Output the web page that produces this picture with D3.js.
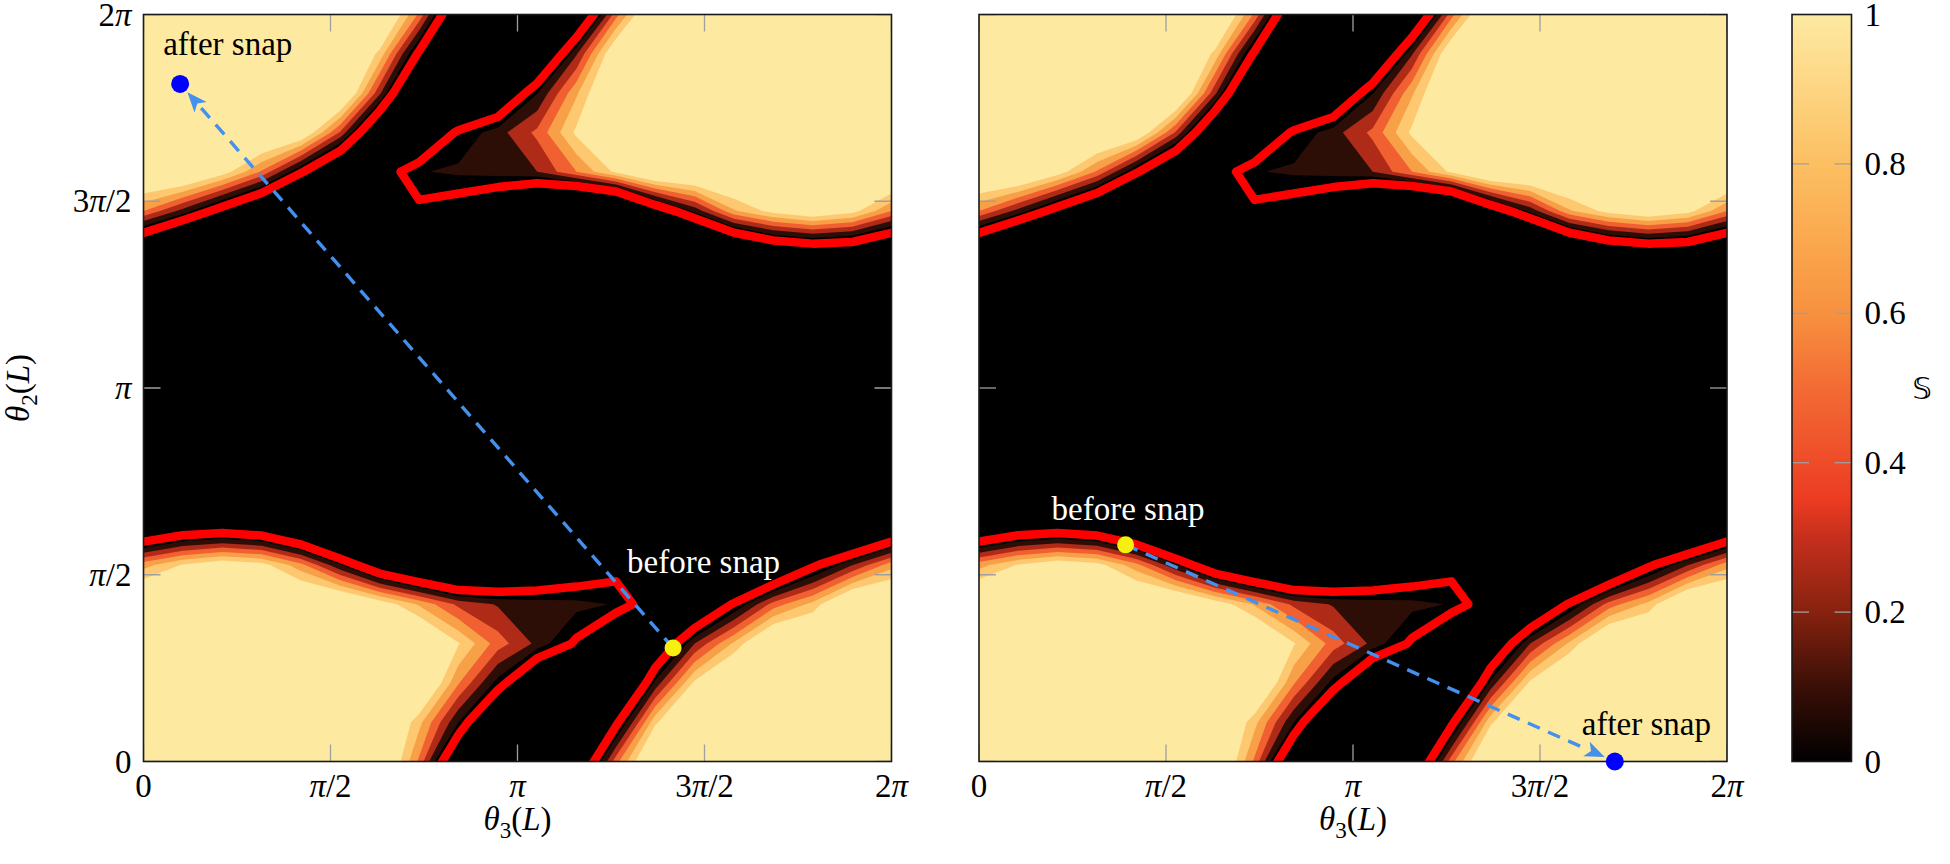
<!DOCTYPE html>
<html>
<head>
<meta charset="utf-8">
<script src="https://cdn.jsdelivr.net/npm/d3@7"></script>
<style>
  body { margin: 0; background: #fff; }
  text { font-family: "Liberation Serif", "Times New Roman", serif; }
</style>
</head>
<body>
<script>
// S sampled on a 20 x 20 grid, theta3 = 0..2pi along a row, theta2 = 0..2pi across rows.
// Rows are written from theta2 = 2pi (top of the plot) down to theta2 = 0 (bottom).
// Values outside [0, 1] are just clipped by the colour scale.
var sRows = [
  [1.5,1.5,1.5,1.5,1.5,1.5,1.5,0.56,-0.85,-1.8,-1.8,-0.89,0.52,1.5,1.5,1.5,1.5,1.5,1.5,1.5],
  [1.5,1.5,1.5,1.5,1.5,1.5,0.94,-0.33,-1.8,-1.8,-1.05,0.18,1.3,1.5,1.5,1.5,1.5,1.5,1.5,1.5],
  [1.5,1.5,1.5,1.5,1.5,1.5,0.24,-1.24,-1.8,-0.87,-0.01,0.77,1.5,1.5,1.5,1.5,1.5,1.5,1.5,1.5],
  [1.5,1.5,1.5,1.5,1.3,0.37,-0.9,-1.05,-0.18,0.12,0.45,1.05,1.5,1.5,1.5,1.5,1.5,1.5,1.5,1.5],
  [1.5,1.5,1.13,0.57,-0.22,-1.0,-0.55,-0.02,0.05,0.1,0.2,0.6,1.05,1.5,1.5,1.5,1.5,1.5,1.5,1.5],
  [0.6,0.12,-0.44,-0.98,-1.8,-1.8,-1.8,-0.37,-0.53,-0.85,-1.42,-1.8,-1.59,-0.6,0.06,0.77,1.09,1.27,1.09,0.6],
  [-0.97,-1.56,-1.8,-1.8,-1.8,-1.8,-1.8,-1.8,-1.8,-1.8,-1.8,-1.8,-1.8,-1.8,-1.72,-1.12,-0.73,-0.59,-0.64,-0.97],
  [-1.8,-1.8,-1.8,-1.8,-1.8,-1.8,-1.8,-1.8,-1.8,-1.8,-1.8,-1.8,-1.8,-1.8,-1.8,-1.8,-1.8,-1.8,-1.8,-1.8],
  [-1.8,-1.8,-1.8,-1.8,-1.8,-1.8,-1.8,-1.8,-1.8,-1.8,-1.8,-1.8,-1.8,-1.8,-1.8,-1.8,-1.8,-1.8,-1.8,-1.8],
  [-1.8,-1.8,-1.8,-1.8,-1.8,-1.8,-1.8,-1.8,-1.8,-1.8,-1.8,-1.8,-1.8,-1.8,-1.8,-1.8,-1.8,-1.8,-1.8,-1.8],
  [-1.8,-1.8,-1.8,-1.8,-1.8,-1.8,-1.8,-1.8,-1.8,-1.8,-1.8,-1.8,-1.8,-1.8,-1.8,-1.8,-1.8,-1.8,-1.8,-1.8],
  [-1.8,-1.8,-1.8,-1.8,-1.8,-1.8,-1.8,-1.8,-1.8,-1.8,-1.8,-1.8,-1.8,-1.8,-1.8,-1.8,-1.8,-1.8,-1.8,-1.8],
  [-1.8,-1.8,-1.8,-1.8,-1.8,-1.8,-1.8,-1.8,-1.8,-1.8,-1.8,-1.8,-1.8,-1.8,-1.8,-1.8,-1.8,-1.8,-1.8,-1.8],
  [-0.95,-0.69,-0.61,-0.73,-1.14,-1.8,-1.8,-1.8,-1.8,-1.8,-1.8,-1.8,-1.8,-1.8,-1.8,-1.8,-1.8,-1.8,-1.49,-0.95],
  [0.72,1.02,1.2,1.09,0.67,0.02,-0.68,-1.08,-1.37,-1.25,-1.0,-0.7,-0.45,-1.5,-1.8,-1.8,-1.03,-0.35,0.19,0.72],
  [1.5,1.5,1.5,1.5,1.5,1.5,1.18,0.77,0.35,0.18,0.12,0.08,-0.02,-0.6,-0.99,-0.22,0.49,0.87,1.5,1.5],
  [1.5,1.5,1.5,1.5,1.5,1.5,1.5,1.5,1.02,0.5,0.15,-0.33,-1.16,-0.8,0.2,0.84,1.5,1.5,1.5,1.5],
  [1.5,1.5,1.5,1.5,1.5,1.5,1.5,1.5,0.62,-0.08,-0.98,-1.8,-1.35,0.06,1.05,1.5,1.5,1.5,1.5,1.5],
  [1.5,1.5,1.5,1.5,1.5,1.5,1.5,0.87,0.0,-1.14,-1.8,-1.8,-0.36,0.96,1.5,1.5,1.5,1.5,1.5,1.5],
  [1.5,1.5,1.5,1.5,1.5,1.5,1.5,0.56,-0.85,-1.8,-1.8,-0.89,0.52,1.5,1.5,1.5,1.5,1.5,1.5,1.5]
];

// filled contour levels and their colours
var levels = [0, 0.2, 0.4, 0.6, 0.8, 1.0];
var bandColors = ["#2d0e07", "#b02a18", "#f06030", "#f8a048", "#fdc870", "#fde9a0"];
var redLevel = -0.27;

// colorbar
var cbStops = [0, 0.1, 0.2, 0.3, 0.35, 0.4, 0.5, 0.6, 0.7, 0.8, 0.9, 1.0];
var cbColors = ["#000000", "#3a0f07", "#86220f", "#c52f1c", "#ec3b22", "#ee4c29",
                "#f36b34", "#f7913f", "#fba94f", "#fcbf62", "#fdd582", "#fdeaa2"];
var cbTicks = [0, 0.2, 0.4, 0.6, 0.8, 1];

// axis ticks (in units of pi)
var tickPi = [0, 0.5, 1, 1.5, 2];
var tickLabels = ["0", "π/2", "π", "3π/2", "2π"];

// snap points, [theta3, theta2] in units of pi: left panel, right panel
var snapBefore = [[1.416, 0.304], [0.392, 0.58]];
var snapAfter = [[0.098, 1.814], [1.70, 0.0]];

var W = 1950, H = 864;
var svg = d3.select("body").append("svg").attr("width", W).attr("height", H);
var PI = Math.PI;

var plotTop = 14.5, pw = 748, ph = 747;
var fs = 33;

// ---- contours from the grid (wrapped one point each side, the data is periodic)
var n = sRows.length;
var S = sRows.slice().reverse();          // S[j][i], j = 0 at theta2 = 0
var period = n - 1;
var wrap = function (k) { return ((k - 1) % period + period) % period; };
var P = n + 2;
var grid = [];
for (var gj = 0; gj < P; gj++) {
  for (var gi = 0; gi < P; gi++) grid.push(S[wrap(gj)][wrap(gi)]);
}
var h = 2 * PI / period;
var bands = d3.contours().size([P, P]).thresholds(levels)(grid);
var redLine = d3.contours().size([P, P]).thresholds([redLevel])(grid);

var defs = svg.append("defs");

var panels = [
  { x0: 143.5, k: 0, yLabels: true,
    beforeText: [-46, -75], afterText: [-17, -29] },
  { x0: 979, k: 1, yLabels: false,
    beforeText: [-74, -25], afterText: [-33, -27] }
];

function mathLabel(sel, str) {
  str.split(/(π)/).forEach(function (part) {
    if (!part) return;
    sel.append("tspan")
      .attr("font-style", part === "π" ? "italic" : null)
      .text(part);
  });
}

function thetaLabel(sel, sub) {
  sel.append("tspan").attr("font-style", "italic").text("θ");
  sel.append("tspan").attr("font-size", fs * 0.7).attr("dy", 8).text(sub);
  sel.append("tspan").attr("dy", -8).text("(");
  sel.append("tspan").attr("font-style", "italic").text("L");
  sel.append("tspan").text(")");
}

panels.forEach(function (p) {
  var x = d3.scaleLinear().domain([0, 2 * PI]).range([p.x0, p.x0 + pw]);
  var y = d3.scaleLinear().domain([0, 2 * PI]).range([plotTop + ph, plotTop]);

  var proj = d3.geoTransform({
    point: function (cx, cy) {
      this.stream.point(x((cx - 1.5) * h), y((cy - 1.5) * h));
    }
  });
  var path = d3.geoPath(proj);

  var clipId = "clip" + p.k;
  defs.append("clipPath").attr("id", clipId)
    .append("rect")
    .attr("x", p.x0).attr("y", plotTop).attr("width", pw).attr("height", ph);

  var g = svg.append("g").attr("clip-path", "url(#" + clipId + ")");
  g.append("rect")
    .attr("x", p.x0).attr("y", plotTop).attr("width", pw).attr("height", ph)
    .attr("fill", "#000");

  g.selectAll("path.band")
    .data(bands)
    .enter().append("path")
    .attr("class", "band")
    .attr("d", path)
    .attr("fill", function (d, i) { return bandColors[i]; });

  g.selectAll("path.red")
    .data(redLine)
    .enter().append("path")
    .attr("class", "red")
    .attr("d", path)
    .attr("fill", "none")
    .attr("stroke", "#ff0000")
    .attr("stroke-width", 8.5)
    .attr("stroke-linejoin", "round");

  // ticks inside the frame, on all four sides
  var tl = 17;
  tickPi.forEach(function (t) {
    var tx = x(t * PI), ty = y(t * PI);
    g.append("line").attr("x1", tx).attr("x2", tx).attr("y1", plotTop + ph).attr("y2", plotTop + ph - tl);
    g.append("line").attr("x1", tx).attr("x2", tx).attr("y1", plotTop).attr("y2", plotTop + tl);
    g.append("line").attr("y1", ty).attr("y2", ty).attr("x1", p.x0).attr("x2", p.x0 + tl);
    g.append("line").attr("y1", ty).attr("y2", ty).attr("x1", p.x0 + pw).attr("x2", p.x0 + pw - tl);
  });
  g.selectAll("line").attr("stroke", "#a0a0a0").attr("stroke-width", 1.3);

  svg.append("rect")
    .attr("x", p.x0).attr("y", plotTop).attr("width", pw).attr("height", ph)
    .attr("fill", "none").attr("stroke", "#1a1a1a").attr("stroke-width", 1.6);

  // tick labels
  tickPi.forEach(function (t, i) {
    var lab = svg.append("text")
      .attr("x", x(t * PI)).attr("y", plotTop + ph + 35)
      .attr("text-anchor", "middle").attr("font-size", fs);
    mathLabel(lab, tickLabels[i]);
    if (p.yLabels) {
      var ylab = svg.append("text")
        .attr("x", p.x0 - 12).attr("y", y(t * PI) + 11)
        .attr("text-anchor", "end").attr("font-size", fs);
      mathLabel(ylab, tickLabels[i]);
    }
  });

  var xl = svg.append("text")
    .attr("x", p.x0 + pw / 2).attr("y", 830)
    .attr("text-anchor", "middle").attr("font-size", fs);
  thetaLabel(xl, "3");

  if (p.yLabels) {
    var yl = svg.append("text")
      .attr("transform", "translate(29," + (plotTop + ph / 2) + ") rotate(-90)")
      .attr("text-anchor", "middle").attr("font-size", fs);
    thetaLabel(yl, "2");
  }

  // snap arrow
  var b = snapBefore[p.k], a = snapAfter[p.k];
  var bx = x(b[0] * PI), by = y(b[1] * PI);
  var ax = x(a[0] * PI), ay = y(a[1] * PI);
  var dx = ax - bx, dy = ay - by, len = Math.sqrt(dx * dx + dy * dy);
  var ux = dx / len, uy = dy / len;
  var tipX = ax - ux * 11, tipY = ay - uy * 11;
  var headL = 20, headW = 8;
  var baseX = tipX - ux * headL, baseY = tipY - uy * headL;
  var arrowColor = "#4490ee";

  svg.append("line")
    .attr("x1", bx).attr("y1", by).attr("x2", baseX + ux * 2).attr("y2", baseY + uy * 2)
    .attr("stroke", arrowColor).attr("stroke-width", 3.4)
    .attr("stroke-dasharray", "13,9");
  svg.append("path")
    .attr("d", "M" + tipX + "," + tipY +
      "L" + (baseX - uy * headW) + "," + (baseY + ux * headW) +
      "L" + (baseX + ux * 5) + "," + (baseY + uy * 5) +
      "L" + (baseX + uy * headW) + "," + (baseY - ux * headW) + "Z")
    .attr("fill", arrowColor);

  svg.append("circle").attr("cx", bx).attr("cy", by).attr("r", 8.5).attr("fill", "#f5f010");
  svg.append("circle").attr("cx", ax).attr("cy", ay).attr("r", 9).attr("fill", "#0000ff");

  svg.append("text")
    .attr("x", bx + p.beforeText[0]).attr("y", by + p.beforeText[1])
    .attr("font-size", fs).attr("fill", "#fff").text("before snap");
  svg.append("text")
    .attr("x", ax + p.afterText[0]).attr("y", ay + p.afterText[1])
    .attr("font-size", fs).attr("fill", "#000").text("after snap");
});

// ---- colorbar
var cbX = 1792, cbW = 59.5;
var cbY = d3.scaleLinear().domain([0, 1]).range([plotTop + ph, plotTop]);
var grad = defs.append("linearGradient").attr("id", "cbgrad")
  .attr("x1", 0).attr("y1", 1).attr("x2", 0).attr("y2", 0);
cbStops.forEach(function (s, i) {
  grad.append("stop").attr("offset", s).attr("stop-color", cbColors[i]);
});
svg.append("rect")
  .attr("x", cbX).attr("y", plotTop).attr("width", cbW).attr("height", ph)
  .attr("fill", "url(#cbgrad)");
cbTicks.forEach(function (t) {
  if (t > 0 && t < 1) {
    svg.append("line").attr("x1", cbX).attr("x2", cbX + 17).attr("y1", cbY(t)).attr("y2", cbY(t))
      .attr("stroke", "#a0a0a0").attr("stroke-width", 1.3);
    svg.append("line").attr("x1", cbX + cbW - 17).attr("x2", cbX + cbW).attr("y1", cbY(t)).attr("y2", cbY(t))
      .attr("stroke", "#a0a0a0").attr("stroke-width", 1.3);
  }
  svg.append("text")
    .attr("x", cbX + cbW + 13).attr("y", cbY(t) + 11)
    .attr("font-size", fs).text(String(t));
});
svg.append("rect")
  .attr("x", cbX).attr("y", plotTop).attr("width", cbW).attr("height", ph)
  .attr("fill", "none").attr("stroke", "#1a1a1a").attr("stroke-width", 1.6);
svg.append("text")
  .attr("x", 1922).attr("y", plotTop + ph / 2 + 11)
  .attr("text-anchor", "middle")
  .style("font-family", "'DejaVu Sans', sans-serif")
  .attr("font-size", 31).text("𝕊");
</script>
</body>
</html>
